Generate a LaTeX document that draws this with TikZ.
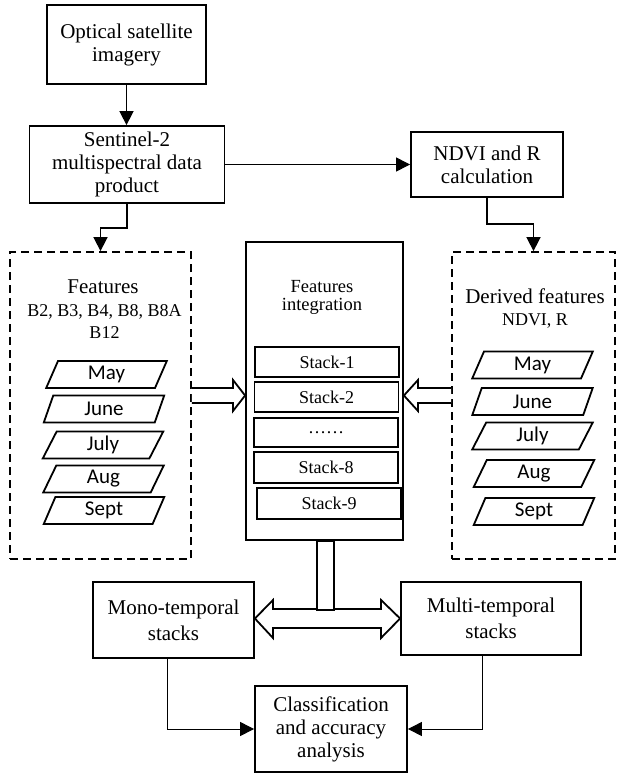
\documentclass[tikz,border=0pt]{standalone}
\usepackage{fontspec}
\setmainfont{Liberation Serif}
\newfontfamily\monthfont{Carlito}
\usetikzlibrary{arrows.meta,shapes.geometric,calc}
\begin{document}
\begin{tikzpicture}[x=1pt,y=-1pt,
  box/.style={draw,line width=1.8pt,inner sep=0pt,align=center,font=\fontsize{21}{23}\selectfont},
  dbox/.style={draw,line width=1.8pt,dash pattern=on 8pt off 5pt,inner sep=0pt},
  stk/.style={draw,line width=1.8pt,inner sep=0pt,minimum width=144,minimum height=30,font=\fontsize{18}{20}\selectfont},
  mon/.style={draw,line width=1.8pt,trapezium,trapezium left angle=75,trapezium right angle=105,trapezium stretches=true,minimum width=121,minimum height=27,inner sep=0pt,font=\monthfont\fontsize{21}{21}\selectfont},
  blk/.style={line width=1.8pt,fill=white,line join=miter},
  tip/.style={-{Triangle[length=14pt,width=14pt]}},
  big/.style={anchor=base,inner sep=0pt,font=\fontsize{21}{23}\selectfont},
  small/.style={anchor=base,inner sep=0pt,font=\fontsize{18}{20}\selectfont}
]
\useasboundingbox (0,0) rectangle (616,776);

% top boxes
\node[box,minimum width=159,minimum height=79] (opt) at (126.5,44.5) {Optical satellite\\imagery};
\node[box,minimum width=195,minimum height=77] (sen) at (127,164.5) {Sentinel-2\\multispectral data\\product};
\node[box,minimum width=152,minimum height=65] (ndvi) at (487,164.5) {NDVI and R\\calculation};

% dashed feature boxes
\node[dbox,minimum width=181,minimum height=307] (lf) at (100.5,405.5) {};
\node[dbox,minimum width=163,minimum height=307] (rf) at (533.5,405.5) {};

% centre integration box
\node[box,minimum width=157,minimum height=298] (ctr) at (324.5,391) {};
\node[small,font=\fontsize{18.5}{20}\selectfont] (fi1) at (322,292) {Features};
\node[small,font=\fontsize{18.5}{20}\selectfont] (fi2) at (322,310) {integration};
\node[stk] (s1) at (327,362) {Stack-1};
\node[stk] (s2) at (326.5,397) {Stack-2};
\node[stk,minimum height=29] (sd) at (326,432.5) {……};
\node[stk,minimum height=31] (s8) at (326,467.5) {Stack-8};
\node[stk,minimum height=31] (s9) at (329,503.5) {Stack-9};

% left feature texts
\node[big] (lt1) at (103,293) {Features};
\node[small] (lt2) at (104.5,316) {B2, B3, B4, B8, B8A};
\node[small] (lt3) at (104.5,338) {B12};
\node[mon] (lm1) at (106.5,374.5) {May};
\node[mon] (lm2) at (104,409) {June};
\node[mon] (lm3) at (103,445) {July};
\node[mon] (lm4) at (103.5,479) {Aug};
\node[mon] (lm5) at (104,510.5) {Sept};

% right feature texts
\node[big] (rt1) at (535,303) {Derived features};
\node[small] (rt2) at (535,325) {NDVI, R};
\node[mon] (rm1) at (532.5,365) {May};
\node[mon] (rm2) at (532.5,401.5) {June};
\node[mon] (rm3) at (532.5,436) {July};
\node[mon] (rm4) at (534,473.5) {Aug};
\node[mon] (rm5) at (534,511.5) {Sept};

% bottom boxes
\node[box,font=\fontsize{21}{26}\selectfont,minimum width=161,minimum height=76] (mono) at (173.5,620) {Mono-temporal\\stacks};
\node[box,font=\fontsize{21}{26}\selectfont,minimum width=180,minimum height=73] (multi) at (491,618.5) {Multi-temporal\\stacks};
\node[box,minimum width=152,minimum height=86] (cls) at (331,729) {Classification\\and accuracy\\analysis};

% connectors
\draw[line width=1.6pt,tip] (opt.south) -- (opt.south |- sen.north);
\draw[line width=1pt,tip] (sen.east) -- (ndvi.west);
\draw[line width=1.6pt,tip] (sen.south) -- (sen.south |- 0,228) -| (lf.north);
\draw[line width=1.6pt,tip] (ndvi.south) -- (ndvi.south |- 0,224) -| (rf.north);

% block arrows into integration box
\draw[blk] (lf.east |- 0,388) -- (233,388) -- (233,380) -- (ctr.west |- 0,395.5) -- (233,411) -- (233,403) -- (lf.east |- 0,403);
\draw[blk] (rf.west |- 0,388) -- (418,388) -- (418,380) -- (ctr.east |- 0,395.5) -- (418,411) -- (418,403) -- (rf.west |- 0,403);

% double arrow and bar
\draw[blk] (mono.east |- 0,618.5) -- (273,600) -- (273,609) -- (381,609) -- (381,600) -- (multi.west |- 0,618.5) -- (381,638) -- (381,628) -- (273,628) -- (273,638) -- cycle;
\draw[blk] (ctr.south -| 317,0) rectangle (334,610);

% to classification
\draw[line width=1pt,tip] (mono.south -| 167,0) |- (cls.west);
\draw[line width=1pt,tip] (multi.south -| 482,0) |- (cls.east);
\end{tikzpicture}
\end{document}
